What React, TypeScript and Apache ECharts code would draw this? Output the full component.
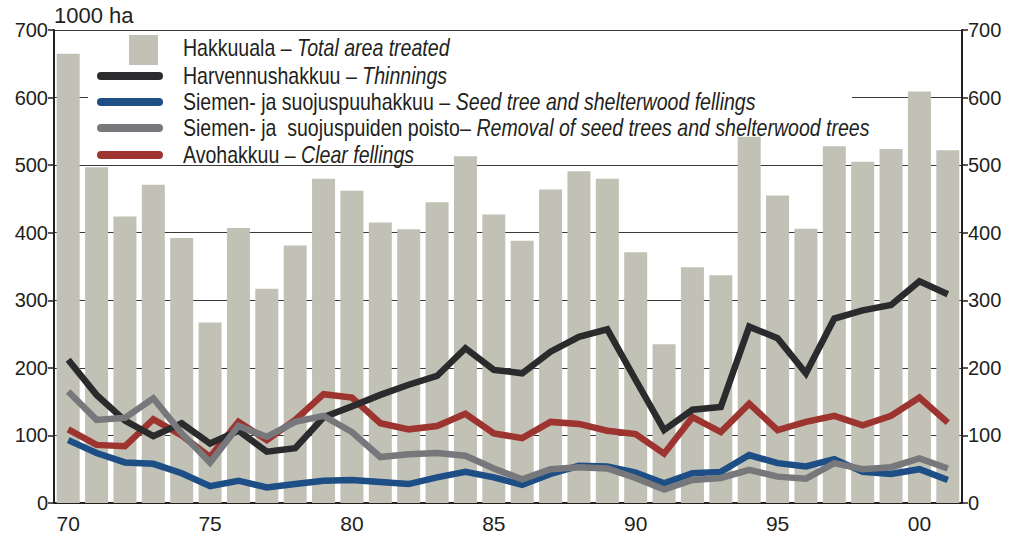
import React, { useEffect, useRef } from "react";
import * as echarts from "echarts";

const years = ["70","71","72","73","74","75","76","77","78","79","80","81","82","83","84","85","86","87","88","89","90","91","92","93","94","95","96","97","98","99","00","01"];
const totalArea = [665,497,424,471,392,267,407,317,381,480,462,415,405,445,513,427,388,464,491,480,371,235,349,337,542,455,406,528,505,524,609,522];
const thinnings = [212,160,122,99,118,88,107,76,81,127,143,160,175,188,229,197,192,224,246,257,182,108,138,142,261,244,192,273,285,293,328,309];
const seedTree = [93,74,60,58,44,25,33,23,28,33,34,31,28,38,46,38,27,43,55,54,45,29,44,46,71,59,54,65,46,43,50,34];
const removal = [165,123,126,155,103,60,114,98,120,129,105,68,72,74,70,51,35,50,53,51,37,20,34,37,49,39,36,59,50,53,66,51];
const clearFell = [109,86,84,124,100,68,120,93,123,161,156,118,109,114,132,103,96,120,117,107,102,73,127,105,147,108,120,129,115,129,156,119];
const yTicks = [0,100,200,300,400,500,600,700];

const legendRows = [
  { fi: "Hakkuuala – ", en: "Total area treated", kind: "bar", color: "#c1c1b5" },
  { fi: "Harvennushakkuu – ", en: "Thinnings", kind: "line", color: "#2b2a2c" },
  { fi: "Siemen- ja suojuspuuhakkuu – ", en: "Seed tree and shelterwood fellings", kind: "line", color: "#1d4e86" },
  { fi: "Siemen- ja  suojuspuiden poisto– ", en: "Removal of seed trees and shelterwood trees", kind: "line", color: "#77787b" },
  { fi: "Avohakkuu – ", en: "Clear fellings", kind: "line", color: "#9e3430" },
];

const FONT = "'Liberation Sans', Arial, sans-serif";
const TXT = "#231f20";

export default function App() {
  const ref = useRef<HTMLDivElement>(null);
  useEffect(() => {
    if (!ref.current) return;
    const chart = echarts.init(ref.current, undefined, { renderer: "svg" });
    const rowY = [48, 76, 102, 128, 155];
    const graphics: any[] = [
      { type: "rect", z: 1, shape: { x: 88, y: 33, width: 764, height: 128 }, style: { fill: "#ffffff" } },
    ];
    legendRows.forEach((r, i) => {
      if (r.kind === "bar") {
        graphics.push({ type: "rect", z: 10, shape: { x: 129, y: 35, width: 29, height: 30 }, style: { fill: r.color } });
      } else {
        graphics.push({ type: "line", z: 10, shape: { x1: 101, y1: rowY[i], x2: 159, y2: rowY[i] }, style: { stroke: r.color, lineWidth: 8, lineCap: "round" } });
      }
      graphics.push({
        type: "text", z: 10, x: 183, y: rowY[i], scaleX: 0.85,
        style: {
          text: `{n|${r.fi}}{i|${r.en}}`,
          verticalAlign: "middle",
          rich: {
            n: { fontFamily: FONT, fontSize: 23, fill: TXT },
            i: { fontFamily: FONT, fontSize: 23, fontStyle: "italic", fill: TXT },
          },
        },
      });
    });

    const yAxisBase = {
      type: "value", min: yTicks[0], max: yTicks[yTicks.length - 1], interval: 100,
      axisLine: { show: true, lineStyle: { color: TXT, width: 2 } },
      axisTick: { show: true, length: 6, lineStyle: { color: TXT, width: 1.5 } },
      axisLabel: { fontFamily: FONT, fontSize: 20, color: TXT, margin: 6 },
    };
    const lineSeries = (name: string, data: number[], color: string, z: number) => ({
      name, type: "line", data, symbol: "none", z,
      lineStyle: { color, width: 6.5, join: "miter" },
      itemStyle: { color },
    });

    chart.setOption({
      animation: false,
      textStyle: { fontFamily: FONT },
      grid: { left: 54, right: 48, top: 30, bottom: 38 },
      graphic: graphics,
      xAxis: [
        {
          type: "category", data: years, position: "bottom",
          axisLine: { lineStyle: { color: TXT, width: 2 } },
          axisTick: { alignWithLabel: true, interval: 0, length: 6, lineStyle: { color: TXT, width: 1.5 } },
          axisLabel: { interval: 4, fontFamily: FONT, fontSize: 21, color: TXT, margin: 10 },
        },
        {
          type: "category", data: years, position: "top",
          axisLine: { show: true, lineStyle: { color: TXT, width: 2 } },
          axisTick: { show: false }, axisLabel: { show: false },
        },
      ],
      yAxis: [
        {
          ...yAxisBase, position: "left",
          name: "1000 ha", nameLocation: "end", nameGap: 4,
          nameTextStyle: { fontFamily: FONT, fontSize: 22, color: TXT, align: "left", verticalAlign: "bottom" },
          splitLine: { show: true, lineStyle: { color: "#3a3a3a", width: 1 } },
        },
        { ...yAxisBase, position: "right", splitLine: { show: false } },
      ],
      series: [
        { name: "Hakkuuala – Total area treated", type: "bar", data: totalArea, barWidth: 23, z: 2, itemStyle: { color: "#c1c1b5" } },
        lineSeries("Avohakkuu – Clear fellings", clearFell, "#9e3430", 3),
        lineSeries("Harvennushakkuu – Thinnings", thinnings, "#2b2a2c", 4),
        lineSeries("Siemen- ja suojuspuuhakkuu – Seed tree and shelterwood fellings", seedTree, "#1d4e86", 5),
        lineSeries("Siemen- ja suojuspuiden poisto – Removal of seed trees and shelterwood trees", removal, "#77787b", 6),
      ],
    });
    return () => chart.dispose();
  }, []);
  return <div ref={ref} style={{ width: 1010, height: 541, position: "absolute", left: 0, top: 0 }} />;
}
